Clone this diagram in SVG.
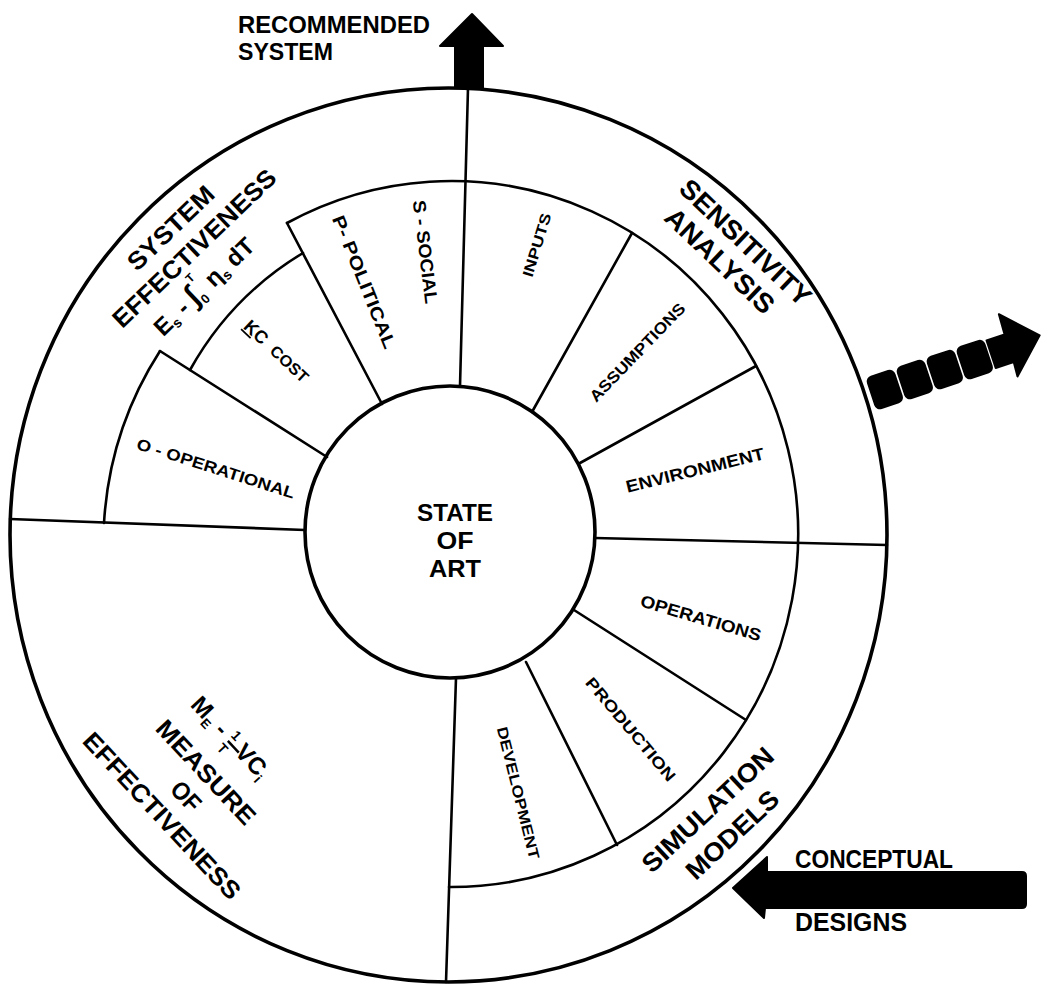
<svg xmlns="http://www.w3.org/2000/svg" width="1047" height="984" viewBox="0 0 1047 984">
<style>
.ln{fill:none;stroke:#000;stroke-width:2.6;stroke-linecap:round;stroke-linejoin:round}
.hv{fill:none;stroke:#000;stroke-width:3.6}
.t{font-family:"Liberation Sans",Arial,sans-serif;font-weight:bold;fill:#000}
.blk{fill:#000;stroke:#000;stroke-width:2;stroke-linejoin:round}
</style>
<rect width="1047" height="984" fill="#fff"/>
<g id="rings">
<ellipse class="hv" cx="448.5" cy="535" rx="438.5" ry="447"/>
<ellipse class="hv" cx="450" cy="532" rx="145" ry="146"/>
</g>
<g id="connectors">
<line class="ln" x1="468" y1="88" x2="460" y2="386"/>
<line class="ln" x1="10" y1="519" x2="305" y2="530"/>
<line class="ln" x1="595" y1="538" x2="887" y2="545"/>
<line class="ln" x1="456" y1="678" x2="446" y2="982"/>
<path class="ln" d="M104,523 A347,353 0 0,1 160,351"/>
<line class="ln" x1="160" y1="351" x2="327" y2="457"/>
<path class="ln" d="M190,370 A315,315 0 0,1 303,253"/>
<line class="ln" x1="287" y1="223" x2="382" y2="404"/>
<path class="ln" d="M287,223 A347,353 0 1,1 449,887"/>
<line class="ln" x1="532" y1="412" x2="632" y2="233"/>
<line class="ln" x1="580" y1="463" x2="756" y2="366"/>
<line class="ln" x1="574" y1="610" x2="746" y2="720"/>
<line class="ln" x1="526" y1="662" x2="617" y2="845"/>
</g>
<g id="recommended-system">
<path class="blk" d="M455,88 L455,46 L440,46 L472,14 L503,46 L483,46 L483,88 Z"/>
<text class="t" x="238" y="33" font-size="23" textLength="192" lengthAdjust="spacingAndGlyphs">RECOMMENDED</text>
<text class="t" x="238" y="60" font-size="23" textLength="95" lengthAdjust="spacingAndGlyphs">SYSTEM</text>
</g>
<g id="output-arrow" transform="translate(885,390) rotate(-18.4)">
<rect class="blk" x="-14" y="-17" width="28" height="33" rx="5"/>
<rect class="blk" x="17.6" y="-17" width="28" height="33" rx="5"/>
<rect class="blk" x="49.2" y="-17" width="28" height="33" rx="5"/>
<rect class="blk" x="80.8" y="-17" width="28" height="33" rx="5"/>
<path class="blk" d="M112,-15 L131,-15 L132,-36 L164,-3 L130,29 L131,14 L112,14 Z"/>
</g>
<g id="conceptual-designs">
<path class="blk" d="M733,888 L767,857 L767,872 L1022,872 Q1026,872 1026,876 L1026,904 Q1026,908 1022,908 L765,908 L764,918 Z"/>
<text class="t" x="795" y="868" font-size="25" textLength="158" lengthAdjust="spacingAndGlyphs">CONCEPTUAL</text>
<text class="t" x="795" y="931" font-size="25" textLength="112" lengthAdjust="spacingAndGlyphs">DESIGNS</text>
</g>
<g id="state-of-art" class="t" text-anchor="middle">
<text x="455" y="521" font-size="24" textLength="76" lengthAdjust="spacingAndGlyphs">STATE</text>
<text x="455" y="549" font-size="24" textLength="37" lengthAdjust="spacingAndGlyphs">OF</text>
<text x="455" y="577" font-size="24" textLength="52" lengthAdjust="spacingAndGlyphs">ART</text>
</g>
<g id="system-effectiveness" transform="translate(194,248) rotate(-43.8)">
<text class="t" x="-3" y="-22" font-size="25" text-anchor="middle" textLength="110" lengthAdjust="spacingAndGlyphs">SYSTEM</text>
<text class="t" x="0" y="9" font-size="25" text-anchor="middle" textLength="216" lengthAdjust="spacingAndGlyphs">EFFECTIVENESS</text>
<text class="t" x="-84" y="43" font-size="24">E<tspan font-size="14" dy="4">s</tspan><tspan dy="-4"> - </tspan><tspan font-size="30">∫</tspan><tspan font-size="13" dy="6">0</tspan><tspan font-size="12" dx="-4" dy="-26">T</tspan><tspan dy="20"> η</tspan><tspan font-size="14" dy="4">s</tspan><tspan dy="-4"> dT</tspan></text>
</g>
<g id="sensitivity-analysis" transform="translate(746,242) rotate(43.6)">
<text class="t" x="0" y="10" font-size="27" text-anchor="middle" textLength="170" lengthAdjust="spacingAndGlyphs">SENSITIVITY</text>
<text class="t" x="-6" y="41" font-size="27" text-anchor="middle" textLength="140" lengthAdjust="spacingAndGlyphs">ANALYSIS</text>
</g>
<g id="simulation-models" transform="translate(707,809) rotate(-43)">
<text class="t" x="0" y="10" font-size="26" text-anchor="middle" textLength="170" lengthAdjust="spacingAndGlyphs">SIMULATION</text>
<text class="t" x="1" y="45" font-size="26" text-anchor="middle" textLength="117" lengthAdjust="spacingAndGlyphs">MODELS</text>
</g>
<g id="measure-of-effectiveness" transform="translate(163,815) rotate(47)">
<text class="t" x="-62" y="-94" font-size="24">M<tspan font-size="13" dy="5">E</tspan><tspan dy="-5"> - </tspan><tspan font-size="14" dy="-9">1</tspan><tspan font-size="14" dx="-8" dy="19">T</tspan><tspan dy="-10"> VC</tspan><tspan font-size="14" dy="5">i</tspan></text>
<line x1="-10" y1="-98" x2="6" y2="-98" stroke="#000" stroke-width="2.5"/>
<text class="t" x="-2" y="-52" font-size="25" text-anchor="middle" textLength="133" lengthAdjust="spacingAndGlyphs">MEASURE</text>
<text class="t" x="2" y="-21" font-size="25" text-anchor="middle" textLength="32" lengthAdjust="spacingAndGlyphs">OF</text>
<text class="t" x="0" y="10" font-size="25" text-anchor="middle" textLength="218" lengthAdjust="spacingAndGlyphs">EFFECTIVENESS</text>
</g>
<g id="operational" transform="translate(216,468) rotate(17.7)">
<text class="t" x="0" y="6" font-size="16" text-anchor="middle" textLength="165" lengthAdjust="spacingAndGlyphs">O - OPERATIONAL</text>
</g>
<g id="cost" transform="translate(275,350) rotate(43)">
<text class="t" x="-26" y="6" font-size="18" text-anchor="middle"><tspan text-decoration="underline">K</tspan>C</text>
<text class="t" x="20" y="6" font-size="16" text-anchor="middle" textLength="46" lengthAdjust="spacingAndGlyphs">COST</text>
</g>
<g id="political" transform="translate(364,282) rotate(68)">
<text class="t" x="0" y="6" font-size="18" text-anchor="middle" textLength="142" lengthAdjust="spacingAndGlyphs">P- POLITICAL</text>
</g>
<g id="social" transform="translate(425,252) rotate(83)">
<text class="t" x="0" y="6" font-size="18" text-anchor="middle" textLength="104" lengthAdjust="spacingAndGlyphs">S - SOCIAL</text>
</g>
<g id="inputs" transform="translate(537,245) rotate(-73)">
<text class="t" x="0" y="5" font-size="15" text-anchor="middle" textLength="66" lengthAdjust="spacingAndGlyphs">INPUTS</text>
</g>
<g id="assumptions" transform="translate(637,352) rotate(-46)">
<text class="t" x="0" y="6" font-size="16" text-anchor="middle" textLength="130" lengthAdjust="spacingAndGlyphs">ASSUMPTIONS</text>
</g>
<g id="environment" transform="translate(695,470) rotate(-13.8)">
<text class="t" x="0" y="6" font-size="17" text-anchor="middle" textLength="142" lengthAdjust="spacingAndGlyphs">ENVIRONMENT</text>
</g>
<g id="operations" transform="translate(701,618) rotate(16.4)">
<text class="t" x="0" y="6" font-size="17" text-anchor="middle" textLength="125" lengthAdjust="spacingAndGlyphs">OPERATIONS</text>
</g>
<g id="production" transform="translate(631,729) rotate(50)">
<text class="t" x="0" y="6" font-size="16" text-anchor="middle" textLength="130" lengthAdjust="spacingAndGlyphs">PRODUCTION</text>
</g>
<g id="development" transform="translate(518,793) rotate(76)">
<text class="t" x="0" y="5" font-size="15" text-anchor="middle" textLength="136" lengthAdjust="spacingAndGlyphs">DEVELOPMENT</text>
</g>
</svg>
